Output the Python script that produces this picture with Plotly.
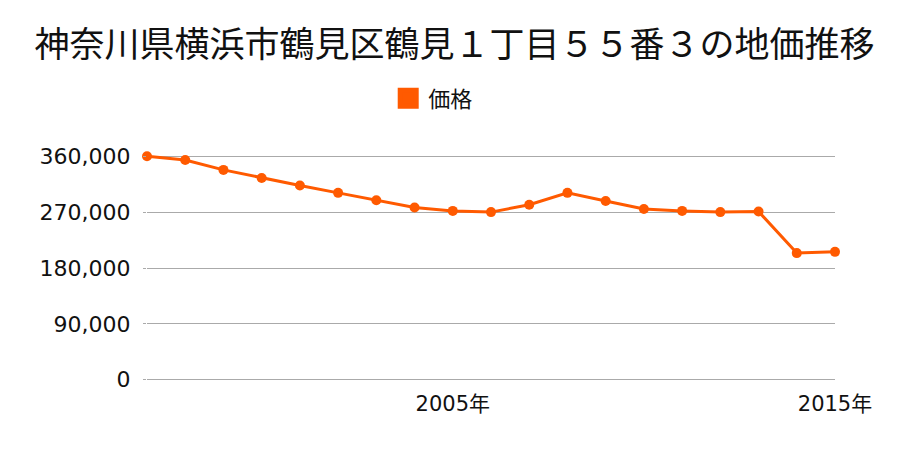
import plotly.graph_objects as go

years = list(range(1997, 2016))
prices = [360000, 354000, 338000, 325000, 313000, 301000, 289000, 277500, 272000,
          270000, 282000, 301000, 288000, 275000, 272000, 270000, 271000, 204000, 206000]
y_ticks = [0, 90000, 180000, 270000, 360000]
y_ticktext = ["0", "90,000", "180,000", "270,000", "360,000"]
x_ticks = [2005, 2015]
x_ticktext = ["2005年", "2015年"]

title = "神奈川県横浜市鶴見区鶴見１丁目５５番３の地価推移"
series_name = "価格"
color = "#ff5a00"
font = "Noto Sans CJK JP"
tick_font = "DejaVu Sans, Noto Sans CJK JP"

fig = go.Figure()
fig.add_trace(go.Scatter(
    x=years, y=prices, mode="lines+markers", name=series_name,
    line=dict(color=color, width=3), marker=dict(color=color, size=10),
    cliponaxis=False, showlegend=False,
))
fig.add_trace(go.Scatter(
    x=[None], y=[None], mode="markers", name=series_name,
    marker=dict(color=color, size=20, symbol="square",
                line=dict(color=color, width=5)),
))

fig.update_layout(
    width=900, height=450,
    paper_bgcolor="white", plot_bgcolor="white",
    margin=dict(l=147, r=65, t=155, b=69, autoexpand=False),
    font=dict(family=font, color="#111111"),
    title=dict(text=title, x=0.505, xanchor="center", y=0.9, yanchor="middle",
               font=dict(size=35, family=font, color="#111111")),
    legend=dict(orientation="h", x=0.416, xanchor="center", y=1.25, yanchor="middle",
                font=dict(size=22, family=font), itemsizing="trace"),
    xaxis=dict(range=[1997, 2015], tickvals=x_ticks, ticktext=x_ticktext,
               showgrid=False, zeroline=False, showline=False,
               tickfont=dict(size=21, family=tick_font), ticks="",
               ticklabelstandoff=8),
    yaxis=dict(range=[-2000, 362000], tickvals=y_ticks, ticktext=y_ticktext,
               showgrid=True, gridcolor="#aaaaaa", gridwidth=1,
               zeroline=False, showline=False,
               ticks="outside", ticklen=3, tickcolor="#aaaaaa",
               tickfont=dict(size=22, family=tick_font), ticklabelstandoff=8),
)

fig.write_html("out.html", config={"displayModeBar": False},
               post_script="document.body.style.margin='0';")
